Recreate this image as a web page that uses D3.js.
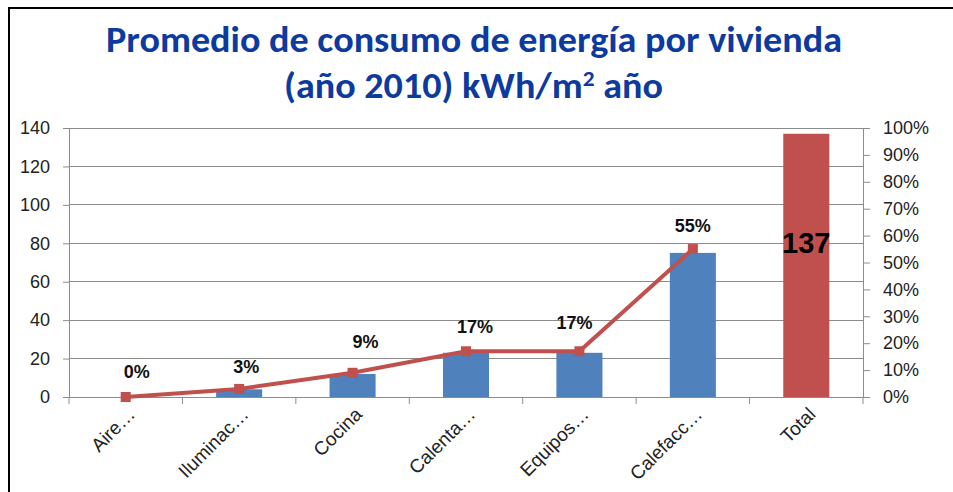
<!DOCTYPE html>
<html><head><meta charset="utf-8">
<script src="https://cdn.jsdelivr.net/npm/d3@7"></script>
<style>html,body{margin:0;padding:0;background:#fff}svg{display:block}</style>
</head><body><svg id="c" width="953" height="492"></svg>
<script>
const categories = ["Aire…","Iluminac…","Cocina","Calenta…","Equipos…","Calefacc…","Total"];
const consumo = [0, 4, 12, 23, 23, 75, 137];
const porcentaje = [0, 0.03, 0.09, 0.17, 0.17, 0.55];
const porcentajeLabels = ["0%","3%","9%","17%","17%","55%"];
const leftTicks = [0,20,40,60,80,100,120,140];
const rightTicks = [0,0.1,0.2,0.3,0.4,0.5,0.6,0.7,0.8,0.9,1];
const totalLabel = "137";

const svg = d3.select("#c");
const L = 69, R = 863, T = 128, B = 397;
const x = d3.scaleBand().domain(categories).range([L, R]).paddingInner(0.594).paddingOuter(0.297);
const y = d3.scaleLinear().domain([0, 140]).range([B, T]);
const y2 = d3.scaleLinear().domain([0, 1]).range([B, T]);
const font = "'Liberation Sans', Arial, sans-serif";
const gridCol = "#8c8c8c";

// frame
svg.append("rect").attr("x", 9).attr("y", 8).attr("width", 960).attr("height", 500)
  .attr("fill", "none").attr("stroke", "#000").attr("stroke-width", 2);

// title
const title = svg.append("g").attr("fill", "#0d3a9e").attr("font-family", "Calibri, Carlito, 'Open Sans', 'Liberation Sans', sans-serif").attr("font-weight", "bold");
title.append("text").attr("x", 106).attr("y", 52).attr("font-size", 36)
  .attr("textLength", 736).attr("lengthAdjust", "spacingAndGlyphs")
  .text("Promedio de consumo de energía por vivienda");
const t2 = title.append("text").attr("x", 284).attr("y", 98).attr("font-size", 36)
  .attr("textLength", 379).attr("lengthAdjust", "spacingAndGlyphs");
t2.append("tspan").text("(año 2010) kWh/m");
t2.append("tspan").attr("dy", -12).attr("font-size", 22).text("2");
t2.append("tspan").attr("dy", 12).text(" año");

// gridlines
svg.append("g").selectAll("line").data(leftTicks.filter(d => d > 0)).join("line")
  .attr("x1", L).attr("x2", R).attr("y1", d => y(d)).attr("y2", d => y(d))
  .attr("stroke", gridCol).attr("stroke-width", 1).attr("shape-rendering", "crispEdges");

// left axis
const la = svg.append("g").attr("transform", `translate(${L},0)`)
  .call(d3.axisLeft(y).tickValues(leftTicks).tickSize(6).tickPadding(13).tickFormat(d3.format("d")));
la.select(".domain").attr("stroke", gridCol);
la.selectAll(".tick line").attr("stroke", gridCol);
la.selectAll("text").attr("font-family", font).attr("font-size", 18).attr("fill", "#222");

// right axis
const ra = svg.append("g").attr("transform", `translate(${R},0)`)
  .call(d3.axisRight(y2).tickValues(rightTicks).tickSize(7).tickPadding(13).tickFormat(d3.format(".0%")));
ra.select(".domain").attr("stroke", gridCol);
ra.selectAll(".tick line").attr("stroke", gridCol);
ra.selectAll("text").attr("font-family", font).attr("font-size", 18).attr("fill", "#222");

// bottom axis
svg.append("line").attr("x1", L).attr("x2", R).attr("y1", B).attr("y2", B)
  .attr("stroke", gridCol).attr("shape-rendering", "crispEdges");
const bounds = categories.map(c => x(c) - x.step() * x.paddingInner() / 2).concat([R]);
svg.append("g").selectAll("line").data(bounds).join("line")
  .attr("x1", d => d).attr("x2", d => d).attr("y1", B).attr("y2", B + 7)
  .attr("stroke", gridCol);
svg.append("g").selectAll("text").data(categories).join("text")
  .attr("transform", d => `translate(${x(d) + x.bandwidth() / 2 + 7},${B + 15}) rotate(-45)`)
  .attr("text-anchor", "end").attr("dominant-baseline", "middle")
  .attr("font-family", font).attr("font-size", 19).attr("fill", "#222")
  .text(d => d);

// bars
svg.append("g").selectAll("rect").data(categories).join("rect")
  .attr("x", d => x(d)).attr("width", x.bandwidth())
  .attr("y", (d, i) => y(consumo[i])).attr("height", (d, i) => B - y(consumo[i]))
  .attr("fill", (d, i) => i === categories.length - 1 ? "#C0504D" : "#4F81BD");

// line
const cx = i => x(categories[i]) + x.bandwidth() / 2;
svg.append("path").datum(porcentaje)
  .attr("d", d3.line().x((d, i) => cx(i)).y(d => y2(d)))
  .attr("fill", "none").attr("stroke", "#C0504D").attr("stroke-width", 4);
svg.append("g").selectAll("rect").data(porcentaje).join("rect")
  .attr("x", (d, i) => cx(i) - 5).attr("y", d => y2(d) - 5).attr("width", 10).attr("height", 10)
  .attr("fill", "#C0504D");

// percent labels
const dxs = [11, 7, 13, 9, -5, 0];
const dys = [24, 21, 30, 23, 27, 22];
svg.append("g").selectAll("text").data(porcentajeLabels).join("text")
  .attr("x", (d, i) => cx(i) + dxs[i]).attr("y", (d, i) => y2(porcentaje[i]) - dys[i])
  .attr("text-anchor", "middle").attr("dominant-baseline", "middle")
  .attr("font-family", font).attr("font-weight", "bold").attr("font-size", 18).attr("fill", "#111")
  .text(d => d);

// total label
svg.append("text").attr("x", cx(6)).attr("y", y(80) + 10)
  .attr("text-anchor", "middle").attr("font-family", font).attr("font-weight", "bold")
  .attr("font-size", 29).attr("fill", "#000").text(totalLabel);
</script></body></html>
